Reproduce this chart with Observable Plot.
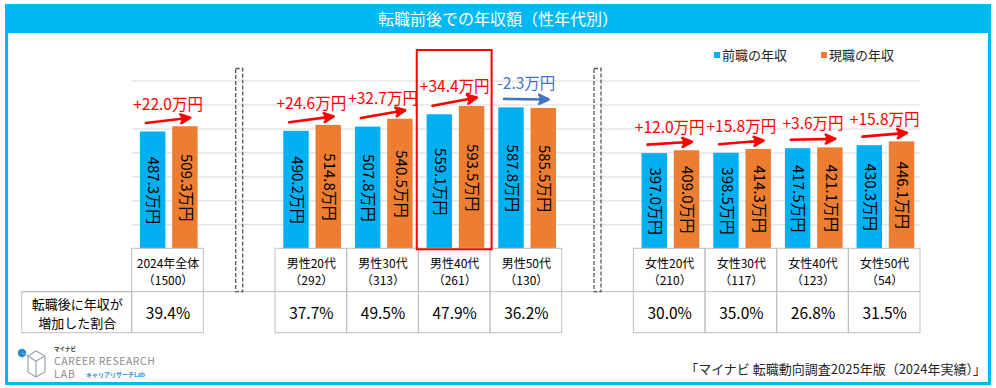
<!DOCTYPE html>
<html lang="ja">
<head>
<meta charset="utf-8">
<script src="https://cdn.jsdelivr.net/npm/d3@7"></script>
<script src="https://cdn.jsdelivr.net/npm/@observablehq/plot@0.6"></script>
<style>
  body { margin: 0; background: #fff; font-family: "Noto Sans CJK JP", "Noto Sans", sans-serif; }
  #wrap { position: relative; width: 996px; height: 388px; overflow: hidden; background: #fff; }
  #chart { position: absolute; left: 0; top: 0; }
  #frame { position: absolute; left: 5px; top: 4px; width: 980px; height: 375px; border: 3px solid #00B9F2; pointer-events: none; }
  #titlebar { position: absolute; left: 5px; top: 4px; width: 986px; height: 29px; background: #00B9F2; color: #fff;
    font-size: 16px; line-height: 29px; text-align: center; }
  .legend { position: absolute; top: 46px; font-size: 13px; color: #262626; line-height: 18px; white-space: nowrap; }
  .legend i { display: inline-block; width: 6px; height: 6px; margin-right: 2px; vertical-align: 2px; }
  #caption { position: absolute; right: 10px; top: 359px; font-size: 13px; color: #262626; white-space: nowrap; }
  #logo { position: absolute; left: 14px; top: 344px; }
</style>
</head>
<body>
<div id="wrap">
  <div id="chart"></div>
  <div id="titlebar"></div>
  <div id="frame"></div>
  <div class="legend" id="leg0" style="left:714px"></div>
  <div class="legend" id="leg1" style="left:821px"></div>
  <div id="caption"></div>
  <svg id="logo" width="150" height="37" viewBox="0 0 150 37">
    <circle cx="8" cy="9" r="4.2" fill="#1E8FD0"/>
    <path d="M8 9 L14 12 L14 28 L22 33 L31 28 L31 12 L22 7 L14 12 M14 12 L22 17 L31 12 M22 17 L22 33" fill="none" stroke="#9aa4ad" stroke-width="1.2"/>
    <text x="40" y="6.5" font-size="5.5" font-weight="bold" fill="#333">マイナビ</text>
    <text x="40" y="20.5" font-size="10.5" fill="#8a8a8a" letter-spacing="0.5">CAREER RESEARCH</text>
    <text x="40" y="34" font-size="10.5" fill="#8a8a8a" letter-spacing="1">LAB</text>
    <text x="72" y="33" font-size="6" font-weight="bold" fill="#1E8FD0">キャリアリサーチLab</text>
  </svg>
</div>
<script>
// ---------- data ----------
const title = "転職前後での年収額（性年代別）";
const seriesNames = ["前職の年収", "現職の年収"];
const categories = ["2024年全体", "男性20代", "男性30代", "男性40代", "男性50代", "女性20代", "女性30代", "女性40代", "女性50代"];
const groups = ["全体", "男性", "男性", "男性", "男性", "女性", "女性", "女性", "女性"];
const sampleSizes = [1500, 292, 313, 261, 130, 210, 117, 123, 54];
const prevIncome = [487.3, 490.2, 507.8, 559.1, 587.8, 397.0, 398.5, 417.5, 430.3];
const currIncome = [509.3, 514.8, 540.5, 593.5, 585.5, 409.0, 414.3, 421.1, 446.1];
const increaseShare = [39.4, 37.7, 49.5, 47.9, 36.2, 30.0, 35.0, 26.8, 31.5];
const rowHeader = "転職後に年収が\n増加した割合";
const gridValues = [100, 200, 300, 400, 500, 600, 700];
const caption = "「マイナビ 転職動向調査2025年版（2024年実績）」";

// ---------- style ----------
const BLUE = "#00B0F0", ORANGE = "#ED7D31", UP = "#FF0000", DOWN = "#4472C4";
const GRID = "#d9d9d9", CELL = "#bfbfbf";
const B0 = 0.115, B1 = 0.47, O0 = 0.565, O1 = 0.92;   // bar extents within a slot
const HEAD_H = 43.4, VAL_H = 41, ROWHEAD_W = 110;

document.getElementById("titlebar").textContent = title;
document.getElementById("leg0").innerHTML = `<i style="background:${BLUE}"></i>` + seriesNames[0];
document.getElementById("leg1").innerHTML = `<i style="background:${ORANGE}"></i>` + seriesNames[1];
document.getElementById("caption").textContent = caption;

// slots: one empty slot between groups
let slot = 0;
const slots = [], separators = [];
categories.forEach((c, i) => {
  if (i > 0 && groups[i] !== groups[i - 1]) { separators.push(slot); slot++; }
  slots.push(slot); slot++;
});
const nSlots = slot;

const rows = categories.map((c, i) => ({
  cat: c, slot: slots[i], before: prevIncome[i], after: currIncome[i],
  n: sampleSizes[i], share: increaseShare[i],
  diff: Math.round((currIncome[i] - prevIncome[i]) * 10) / 10
}));
const highlight = rows.reduce((a, b) => (b.diff > a.diff ? b : a));

const tableMark = (index, scales, values, dims) => {
  const {x, y} = scales;
  const g = d3.create("svg:g");
  const base = y(0), mid = base + HEAD_H, bot = mid + VAL_H, top = y(700);
  const left = x(0) - ROWHEAD_W;
  const cells = g.append("g").attr("fill", "none").attr("stroke", CELL).attr("stroke-width", 1);
  cells.append("line").attr("x1", left).attr("x2", x(nSlots)).attr("y1", mid).attr("y2", mid);
  cells.append("rect").attr("x", left).attr("y", mid).attr("width", x(0) - left).attr("height", VAL_H);
  for (const d of rows) {
    cells.append("rect").attr("x", x(d.slot)).attr("y", base)
      .attr("width", x(d.slot + 1) - x(d.slot)).attr("height", bot - base);
  }
  for (const s of separators) {
    g.append("rect").attr("x", x(s + 0.5) - 3.5).attr("y", top - 12)
      .attr("width", 7).attr("height", mid - (top - 12))
      .attr("fill", "none").attr("stroke", "#555").attr("stroke-width", 1.3).attr("stroke-dasharray", "4 2");
  }
  g.append("rect").attr("x", x(highlight.slot) - 1.6).attr("y", top - 30.5)
    .attr("width", x(highlight.slot + 1) - x(highlight.slot) + 3.2).attr("height", base + 1 - (top - 30.5))
    .attr("fill", "none").attr("stroke", "#FF0000").attr("stroke-width", 2);
  return g.node();
};

const chart = Plot.plot({
  width: 996, height: 388,
  marginLeft: 131.7, marginRight: 76, marginTop: 80.5, marginBottom: 139.7,
  x: {domain: [0, nSlots], axis: null},
  y: {domain: [0, 700], axis: null},
  style: {fontFamily: '"Noto Sans CJK JP", "Noto Sans", sans-serif', background: "transparent", overflow: "visible"},
  marks: [
    Plot.gridY(gridValues, {stroke: GRID, strokeOpacity: 1, strokeWidth: 1}),
    Plot.rectY(rows, {x1: d => d.slot + B0, x2: d => d.slot + B1, y1: 0, y2: "before", fill: BLUE}),
    Plot.rectY(rows, {x1: d => d.slot + O0, x2: d => d.slot + O1, y1: 0, y2: "after", fill: ORANGE}),
    tableMark,
    Plot.text(rows, {x: d => d.slot + (B0 + B1) / 2, y: d => d.before / 2, text: d => d.before.toFixed(1) + "万円",
      rotate: 90, fontSize: 15, fill: "#000"}),
    Plot.text(rows, {x: d => d.slot + (O0 + O1) / 2, y: d => d.after / 2, text: d => d.after.toFixed(1) + "万円",
      rotate: 90, fontSize: 15, fill: "#000"}),
    Plot.arrow(rows, {x1: d => d.slot + 0.5 - 0.31, x2: d => d.slot + 0.5 + 0.31, y1: "before", y2: "after", dy: -9,
      stroke: d => (d.diff >= 0 ? UP : DOWN), fill: d => (d.diff >= 0 ? UP : DOWN),
      strokeWidth: 2.6, headLength: 6, headAngle: 50}),
    Plot.text(rows, {x: d => d.slot + 0.5, y: d => (d.before + d.after) / 2, dy: -24,
      text: d => (d.diff >= 0 ? "+" : "") + d.diff.toFixed(1) + "万円",
      fill: d => (d.diff >= 0 ? UP : DOWN), fontSize: 15.5}),
    Plot.text(rows, {x: d => d.slot + 0.5, frameAnchor: "bottom", lineAnchor: "middle", dy: 22.5, lineHeight: 1.35,
      text: d => d.cat + "\n（" + d.n + "）", fontSize: 12, fill: "#000"}),
    Plot.text(rows, {x: d => d.slot + 0.5, frameAnchor: "bottom", lineAnchor: "middle", dy: 65,
      text: d => d.share.toFixed(1) + "%", fontSize: 15.5, fill: "#000"}),
    Plot.text([rowHeader], {frameAnchor: "bottom-left", textAnchor: "middle", lineAnchor: "middle",
      dx: -ROWHEAD_W / 2, dy: 64, lineHeight: 1.42, text: d => d, fontSize: 13, fill: "#000"})
  ]
});
document.getElementById("chart").appendChild(chart);
</script>
</body>
</html>
